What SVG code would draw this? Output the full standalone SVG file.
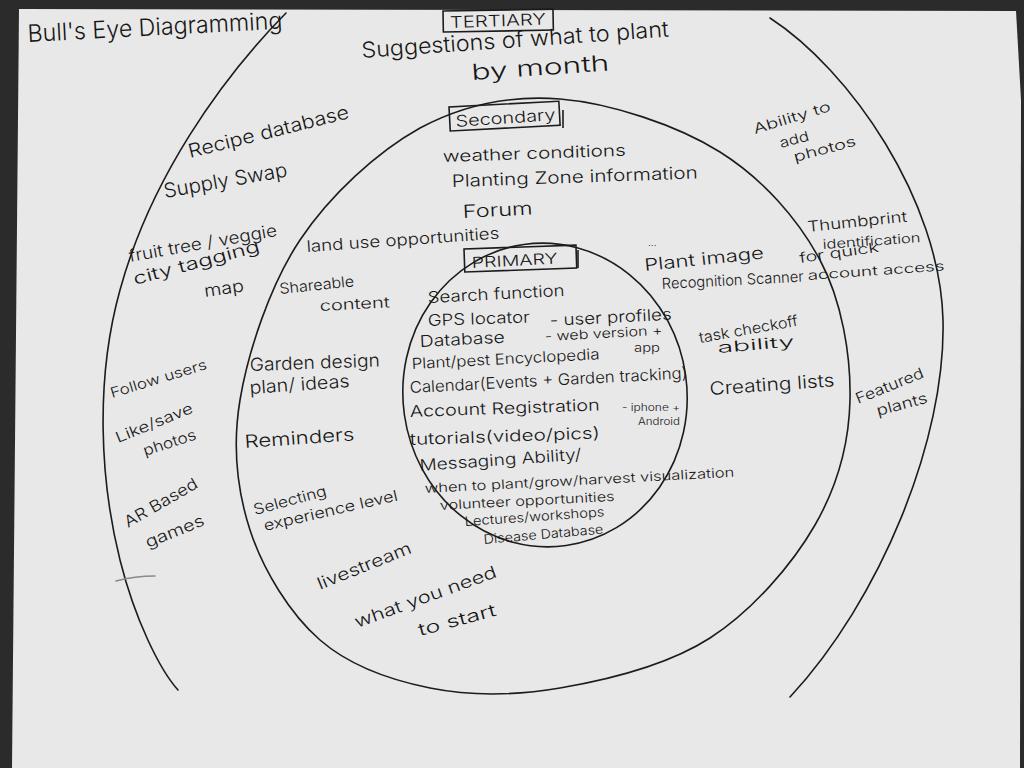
<svg xmlns="http://www.w3.org/2000/svg" width="1024" height="768" viewBox="0 0 1024 768">
<style>
.t{font-family:Inter,"Noto Sans","Liberation Sans",sans-serif;font-weight:300;fill:#161616;}
.ring{fill:none;stroke:#1c1c1c;stroke-width:1.6;stroke-linecap:round;stroke-linejoin:round;}
.box{fill:none;stroke:#1c1c1c;stroke-width:1.6;}
.mark{fill:none;stroke:#8a8a8a;stroke-width:1.4;stroke-linecap:round;}
</style>
<rect x="0" y="0" width="1024" height="768" fill="#2b2b2b"/>
<polygon points="19,9 1016,11 1021,100 1020,768 12,768" fill="#e8e8e8"/>

<g id="title">
<text class="t" x="28" y="42" font-size="24" textLength="255" lengthAdjust="spacingAndGlyphs" transform="rotate(-3 28 42)">Bull's Eye Diagramming</text>
</g>

<g id="tertiary">
<path class="ring" d="M 286,13 C 220,80 150,180 120,290 C 95,380 100,480 120,560 C 135,620 160,670 178,690"/>
<path class="ring" d="M 770,18 C 850,70 940,200 943,320 C 946,440 880,600 790,697"/>
<rect class="box" x="443" y="11" width="110" height="21" transform="rotate(-1 443 11)"/>
<text class="t" x="450" y="28" font-size="16" textLength="96" lengthAdjust="spacingAndGlyphs" transform="rotate(-2 450 28)">TERTIARY</text>
<text class="t" x="362" y="58" font-size="22" textLength="308" lengthAdjust="spacingAndGlyphs" transform="rotate(-4 362 58)">Suggestions of what to plant</text>
<text class="t" x="472" y="80" font-size="22" textLength="138" lengthAdjust="spacingAndGlyphs" transform="rotate(-4 472 80)">by month</text>
<text class="t" x="190" y="158" font-size="19" textLength="165" lengthAdjust="spacingAndGlyphs" transform="rotate(-14 190 158)">Recipe database</text>
<text class="t" x="165" y="198" font-size="20" textLength="125" lengthAdjust="spacingAndGlyphs" transform="rotate(-10 165 198)">Supply Swap</text>
<text class="t" x="130" y="262" font-size="17" textLength="150" lengthAdjust="spacingAndGlyphs" transform="rotate(-10 130 262)">fruit tree / veggie</text>
<text class="t" x="135" y="285" font-size="17" textLength="130" lengthAdjust="spacingAndGlyphs" transform="rotate(-15 135 285)">city tagging</text>
<text class="t" x="205" y="297" font-size="17" textLength="40" lengthAdjust="spacingAndGlyphs" transform="rotate(-8 205 297)">map</text>
<text class="t" x="112" y="398" font-size="14" textLength="100" lengthAdjust="spacingAndGlyphs" transform="rotate(-17 112 398)">Follow users</text>
<text class="t" x="118" y="443" font-size="15" textLength="82" lengthAdjust="spacingAndGlyphs" transform="rotate(-22 118 443)">Like/save</text>
<text class="t" x="145" y="456" font-size="15" textLength="55" lengthAdjust="spacingAndGlyphs" transform="rotate(-18 145 456)">photos</text>
<text class="t" x="128" y="528" font-size="16" textLength="82" lengthAdjust="spacingAndGlyphs" transform="rotate(-30 128 528)">AR Based</text>
<text class="t" x="148" y="548" font-size="16" textLength="62" lengthAdjust="spacingAndGlyphs" transform="rotate(-22 148 548)">games</text>
<path class="mark" d="M 116,581 Q 135,576 155,576"/>
<text class="t" x="755" y="134" font-size="14" textLength="80" lengthAdjust="spacingAndGlyphs" transform="rotate(-17 755 134)">Ability to</text>
<text class="t" x="781" y="148" font-size="14" textLength="30" lengthAdjust="spacingAndGlyphs" transform="rotate(-15 781 148)">add</text>
<text class="t" x="795" y="162" font-size="14" textLength="64" lengthAdjust="spacingAndGlyphs" transform="rotate(-15 795 162)">photos</text>
<text class="t" x="808" y="232" font-size="15" textLength="100" lengthAdjust="spacingAndGlyphs" transform="rotate(-6 808 232)">Thumbprint</text>
<text class="t" x="823" y="249" font-size="13" textLength="98" lengthAdjust="spacingAndGlyphs" transform="rotate(-4 823 249)">identification</text>
<text class="t" x="800" y="263" font-size="14" textLength="80" lengthAdjust="spacingAndGlyphs" transform="rotate(-8 800 263)">for quick</text>
<text class="t" x="808" y="280" font-size="13" textLength="137" lengthAdjust="spacingAndGlyphs" transform="rotate(-4 808 280)">account access</text>
<text class="t" x="858" y="404" font-size="15" textLength="72" lengthAdjust="spacingAndGlyphs" transform="rotate(-22 858 404)">Featured</text>
<text class="t" x="878" y="416" font-size="15" textLength="52" lengthAdjust="spacingAndGlyphs" transform="rotate(-15 878 416)">plants</text>
</g>

<g id="secondary">
<path class="ring" d="M 560,99 C 610,103 677,125 720,152 C 763,179 798,219 820,260 C 842,301 851,356 850,400 C 849,444 838,485 815,525 C 792,565 752,611 710,638 C 668,665 607,680 560,688 C 513,696 470,696 430,688 C 390,680 350,666 320,640 C 290,614 263,570 250,530 C 237,490 232,448 240,400 C 248,352 270,285 300,240 C 330,195 377,152 420,128 C 463,105 510,95 560,99 Z"/>
<rect class="box" x="449" y="107" width="110" height="24" transform="rotate(-3 449 107)"/>
<path class="box" d="M 563,110 L 563,128"/>
<text class="t" x="456" y="127" font-size="16" textLength="100" lengthAdjust="spacingAndGlyphs" transform="rotate(-4 456 127)">Secondary</text>
<text class="t" x="443" y="162" font-size="16" textLength="183" lengthAdjust="spacingAndGlyphs" transform="rotate(-2 443 162)">weather conditions</text>
<text class="t" x="452" y="187" font-size="17" textLength="246" lengthAdjust="spacingAndGlyphs" transform="rotate(-2 452 187)">Planting Zone information</text>
<text class="t" x="463" y="218" font-size="18" textLength="70" lengthAdjust="spacingAndGlyphs" transform="rotate(-3 463 218)">Forum</text>
<text class="t" x="307" y="252" font-size="16" textLength="193" lengthAdjust="spacingAndGlyphs" transform="rotate(-4 307 252)">land use opportunities</text>
<text class="t" x="280" y="294" font-size="15" textLength="75" lengthAdjust="spacingAndGlyphs" transform="rotate(-6 280 294)">Shareable</text>
<text class="t" x="320" y="311" font-size="15" textLength="70" lengthAdjust="spacingAndGlyphs" transform="rotate(-3 320 311)">content</text>
<text class="t" x="250" y="371" font-size="18" textLength="130" lengthAdjust="spacingAndGlyphs" transform="rotate(-2 250 371)">Garden design</text>
<text class="t" x="250" y="394" font-size="18" textLength="100" lengthAdjust="spacingAndGlyphs" transform="rotate(-4 250 394)">plan/ ideas</text>
<text class="t" x="245" y="448" font-size="18" textLength="110" lengthAdjust="spacingAndGlyphs" transform="rotate(-4 245 448)">Reminders</text>
<text class="t" x="255" y="515" font-size="15" textLength="75" lengthAdjust="spacingAndGlyphs" transform="rotate(-15 255 515)">Selecting</text>
<text class="t" x="265" y="531" font-size="15" textLength="137" lengthAdjust="spacingAndGlyphs" transform="rotate(-13 265 531)">experience level</text>
<text class="t" x="320" y="590" font-size="17" textLength="100" lengthAdjust="spacingAndGlyphs" transform="rotate(-22 320 590)">livestream</text>
<text class="t" x="357" y="628" font-size="17" textLength="150" lengthAdjust="spacingAndGlyphs" transform="rotate(-20 357 628)">what you need</text>
<text class="t" x="420" y="636" font-size="17" textLength="80" lengthAdjust="spacingAndGlyphs" transform="rotate(-15 420 636)">to start</text>
<text class="t" x="648" y="246" font-size="10">...</text>
<text class="t" x="645" y="271" font-size="17" textLength="120" lengthAdjust="spacingAndGlyphs" transform="rotate(-6 645 271)">Plant image</text>
<text class="t" x="662" y="289" font-size="15" textLength="142" lengthAdjust="spacingAndGlyphs" transform="rotate(-3 662 289)">Recognition Scanner</text>
<text class="t" x="700" y="343" font-size="15" textLength="100" lengthAdjust="spacingAndGlyphs" transform="rotate(-10 700 343)">task checkoff</text>
<text class="t" x="718" y="353" font-size="15" textLength="77" lengthAdjust="spacingAndGlyphs" transform="rotate(-5 718 353)">ability</text>
<text class="t" x="710" y="395" font-size="18" textLength="125" lengthAdjust="spacingAndGlyphs" transform="rotate(-4 710 395)">Creating lists</text>
</g>

<g id="primary">
<ellipse class="ring" cx="545" cy="395" rx="142" ry="152" transform="rotate(-8 545 395)"/>
<rect class="box" x="464" y="249" width="112" height="23" transform="rotate(-2 464 249)"/>
<path class="box" d="M 578,250 L 578,268"/>
<text class="t" x="472" y="268" font-size="15" textLength="86" lengthAdjust="spacingAndGlyphs" transform="rotate(-3 472 268)">PRIMARY</text>
<text class="t" x="428" y="303" font-size="16" textLength="137" lengthAdjust="spacingAndGlyphs" transform="rotate(-3 428 303)">Search function</text>
<text class="t" x="428" y="326" font-size="16" textLength="102" lengthAdjust="spacingAndGlyphs" transform="rotate(-2 428 326)">GPS locator</text>
<text class="t" x="550" y="326" font-size="16" textLength="122" lengthAdjust="spacingAndGlyphs" transform="rotate(-3 550 326)">- user profiles</text>
<text class="t" x="420" y="347" font-size="16" textLength="85" lengthAdjust="spacingAndGlyphs" transform="rotate(-3 420 347)">Database</text>
<text class="t" x="545" y="341" font-size="13" textLength="118" lengthAdjust="spacingAndGlyphs" transform="rotate(-3 545 341)">- web version +</text>
<text class="t" x="634" y="352" font-size="12" textLength="26" lengthAdjust="spacingAndGlyphs">app</text>
<text class="t" x="412" y="369" font-size="15" textLength="188" lengthAdjust="spacingAndGlyphs" transform="rotate(-3 412 369)">Plant/pest Encyclopedia</text>
<text class="t" x="410" y="393" font-size="16" textLength="278" lengthAdjust="spacingAndGlyphs" transform="rotate(-3 410 393)">Calendar(Events + Garden tracking)</text>
<text class="t" x="410" y="417" font-size="16" textLength="190" lengthAdjust="spacingAndGlyphs" transform="rotate(-2 410 417)">Account Registration</text>
<text class="t" x="622" y="411" font-size="10" textLength="58" lengthAdjust="spacingAndGlyphs">- iphone +</text>
<text class="t" x="638" y="425" font-size="10" textLength="42" lengthAdjust="spacingAndGlyphs">Android</text>
<text class="t" x="410" y="445" font-size="16" textLength="190" lengthAdjust="spacingAndGlyphs" transform="rotate(-2 410 445)">tutorials(video/pics)</text>
<text class="t" x="420" y="471" font-size="16" textLength="162" lengthAdjust="spacingAndGlyphs" transform="rotate(-4 420 471)">Messaging Ability/</text>
<text class="t" x="425" y="493" font-size="13" textLength="310" lengthAdjust="spacingAndGlyphs" transform="rotate(-3 425 493)">when to plant/grow/harvest visualization</text>
<text class="t" x="440" y="510" font-size="13" textLength="175" lengthAdjust="spacingAndGlyphs" transform="rotate(-3 440 510)">volunteer opportunities</text>
<text class="t" x="465" y="526" font-size="13" textLength="140" lengthAdjust="spacingAndGlyphs" transform="rotate(-4 465 526)">Lectures/workshops</text>
<text class="t" x="484" y="544" font-size="13" textLength="120" lengthAdjust="spacingAndGlyphs" transform="rotate(-5 484 544)">Disease Database</text>
</g>
</svg>
